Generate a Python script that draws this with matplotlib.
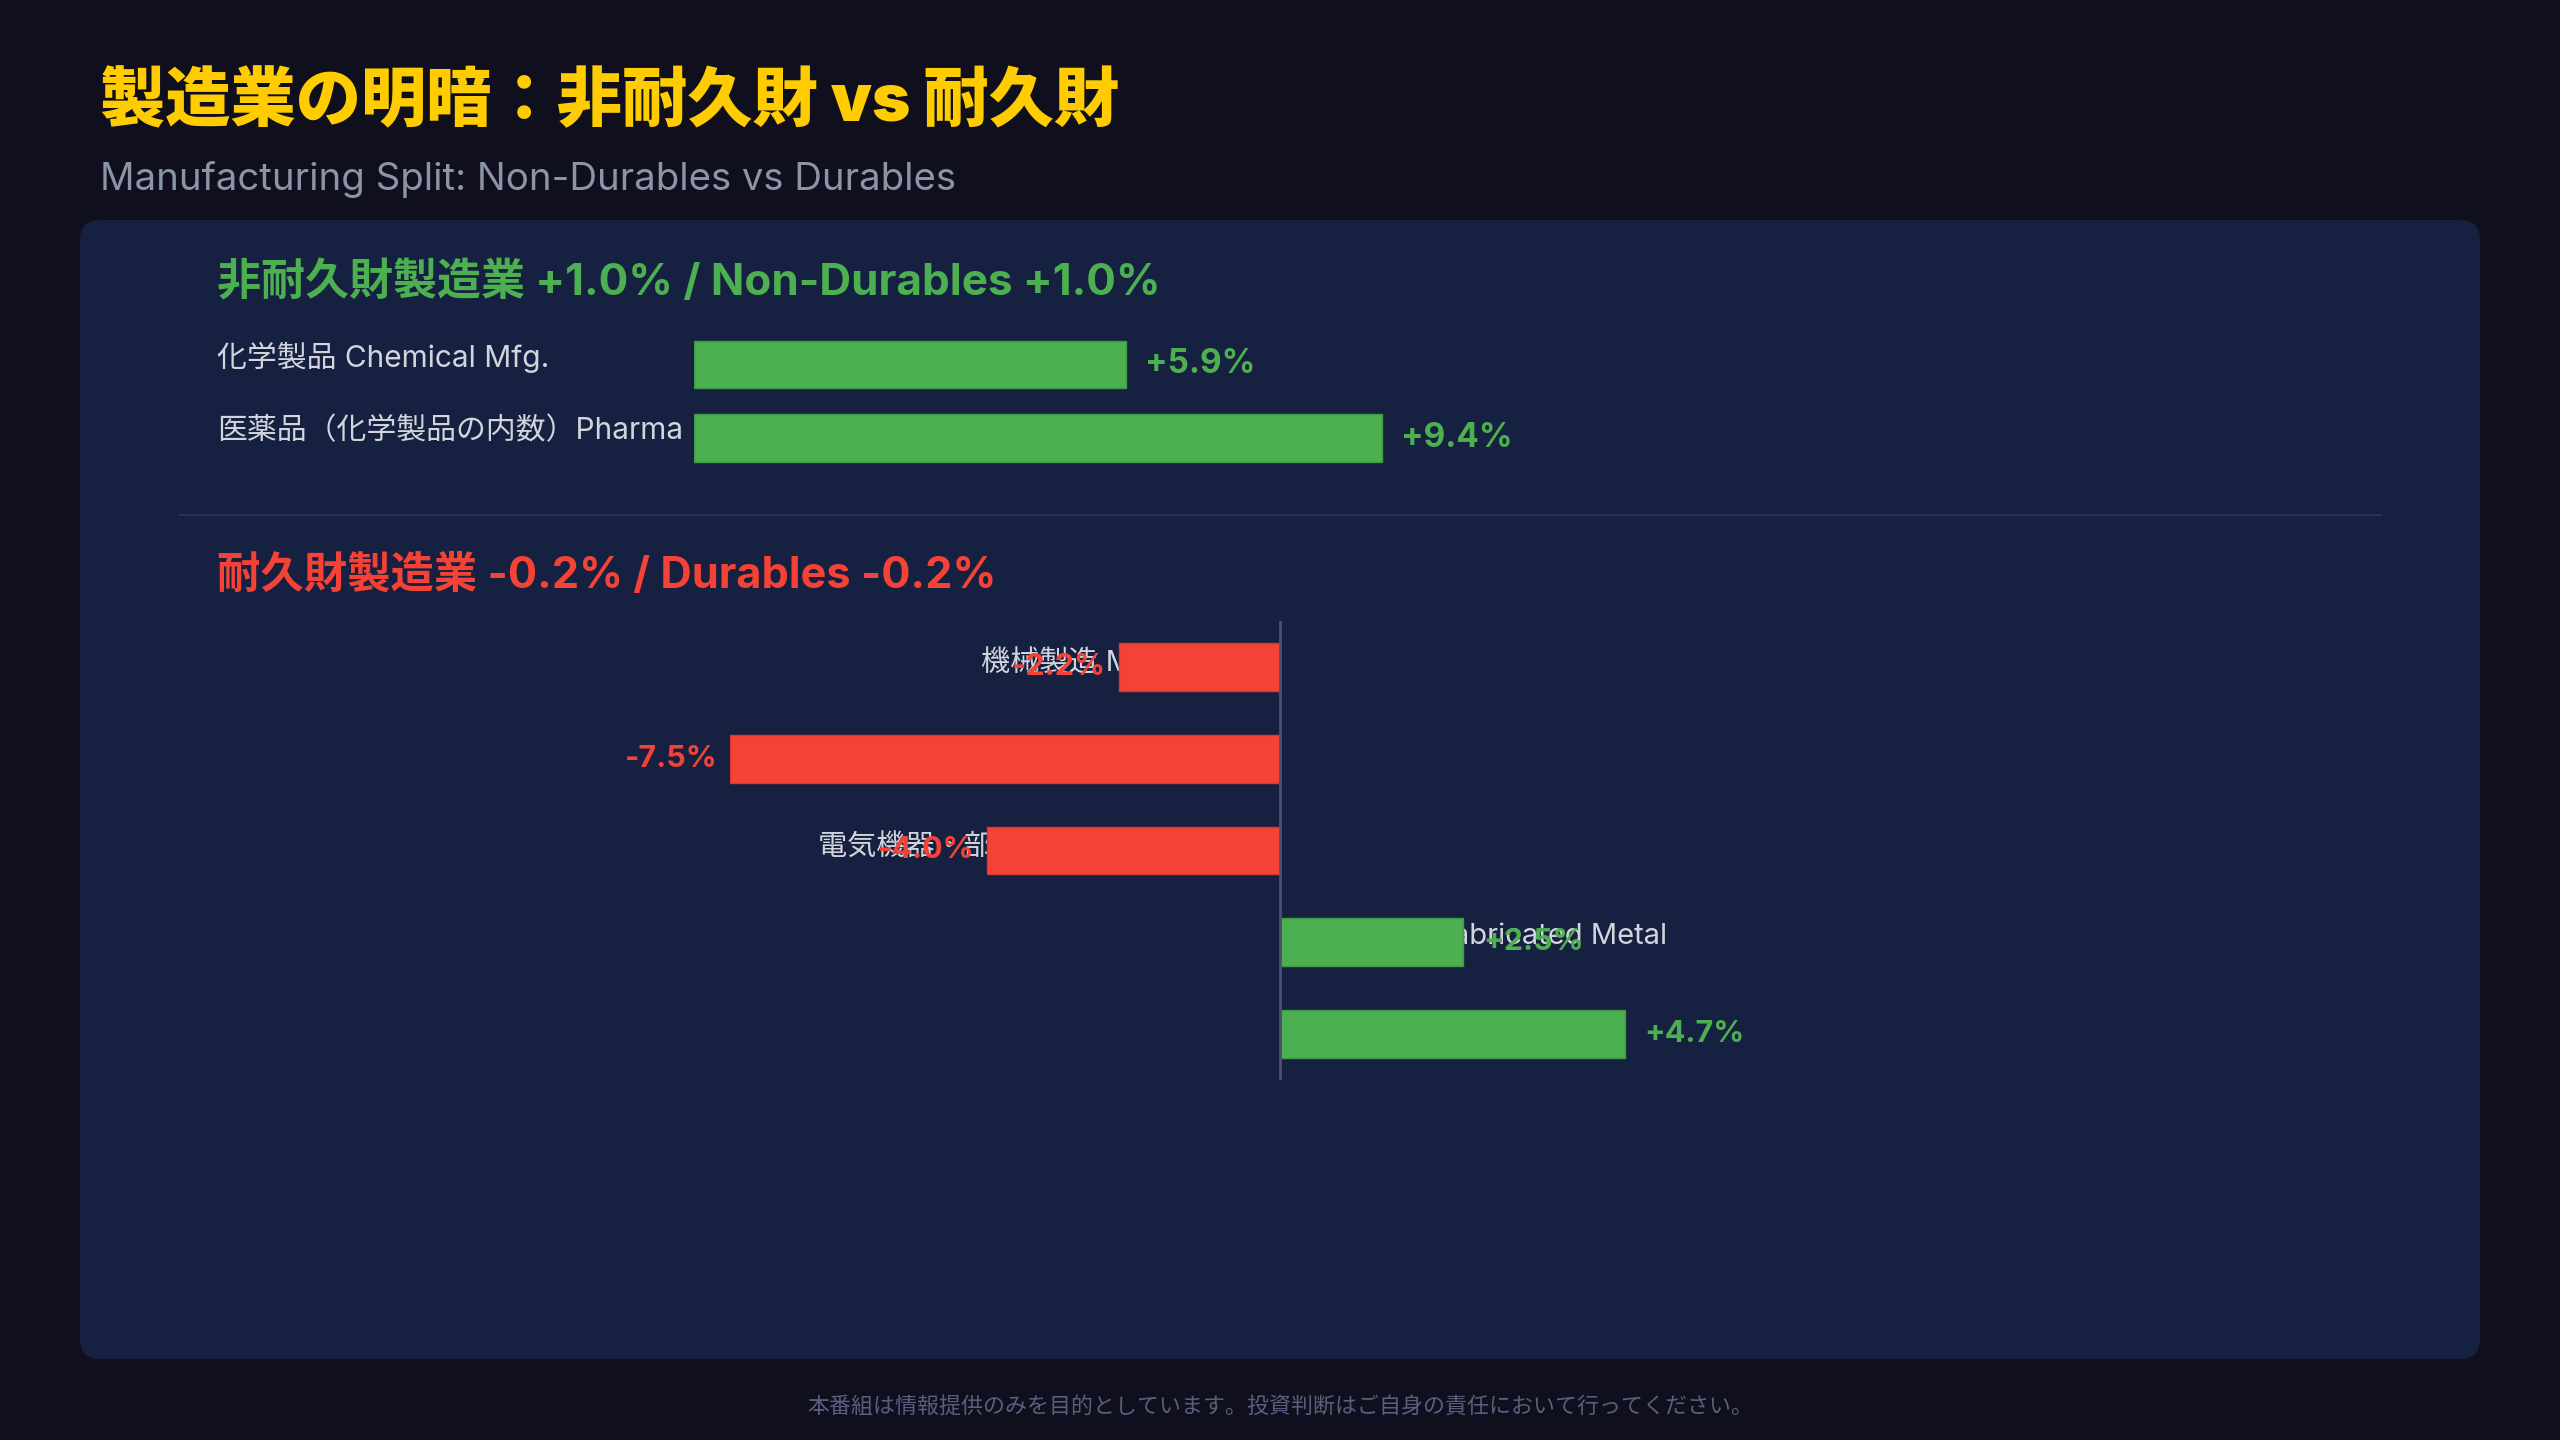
import matplotlib
matplotlib.use("Agg")
import matplotlib.pyplot as plt
from matplotlib.patches import FancyBboxPatch
from matplotlib.transforms import blended_transform_factory

# Latin glyphs from Inter, Japanese glyphs fall back to Noto Sans CJK JP
plt.rcParams['font.family'] = ['Inter', 'Noto Sans CJK JP', 'DejaVu Sans']

# data
title = "製造業の明暗：非耐久財 vs 耐久財"
subtitle = "Manufacturing Split: Non-Durables vs Durables"
footer = "本番組は情報提供のみを目的としています。投資判断はご自身の責任において行ってください。"

nondur_header = "非耐久財製造業 +1.0% / Non-Durables +1.0%"
nondur_labels = ["化学製品 Chemical Mfg.", "医薬品（化学製品の内数）Pharma"]
nondur_values = [5.9, 9.4]

dur_header = "耐久財製造業 -0.2% / Durables -0.2%"
dur_labels = ["機械製造 Machinery", "自動車・部品 Motor Vehicles",
              "電気機器・部品 Electrical Equip.", "金属製品 Fabricated Metal",
              "一次金属 Primary Metal"]
dur_values = [-2.2, -7.5, -4.0, 2.5, 4.7]

# colours
BG = "#0f0f1e"
PANEL = "#162040"
GREEN = "#4caf50"
RED = "#f44336"
GOLD = "#ffcc00"
LABEL = "#d2d5dc"

W, H = 2560, 1440
fig = plt.figure(figsize=(W / 100, H / 100), dpi=100, facecolor=BG)


def box(left, top, right, bottom):
    return [left / W, 1 - bottom / H, (right - left) / W, (bottom - top) / H]


# background layer in pixel units
bg = fig.add_axes([0, 0, 1, 1])
bg.set_xlim(0, W)
bg.set_ylim(H, 0)
bg.axis("off")
bg.add_patch(FancyBboxPatch((80, 220), 2400, 1139,
                            boxstyle="round,pad=0,rounding_size=20",
                            facecolor=PANEL, edgecolor="none"))
bg.plot([180, 2381], [515, 515], color="#2a3152", lw=1.5)

bg.text(100, 103, title, color=GOLD, fontsize=47, fontweight="black", va="center")
bg.text(100, 180, subtitle, color="#8b95a7", fontsize=27.6, va="center")
bg.text(1280, 1407, footer, color="#5b5e7e", fontsize=15.8, ha="center", va="center")
bg.text(217, 283, nondur_header, color=GREEN, fontsize=31.7, fontweight="bold", va="center")
bg.text(217, 576, dur_header, color=RED, fontsize=31.2, fontweight="bold", va="center")

# non-durables
ax1 = fig.add_axes(box(694, 327.8, 694 + 73.2 * 12, 474.4))
ax1.set_xlim(0, 12)
ax1.set_ylim(1.5, -0.5)
ax1.axis("off")
ax1.patch.set_alpha(0)
ys = list(range(len(nondur_values)))
ax1.barh(ys, nondur_values, height=0.65, color=GREEN, edgecolor="#3f9a44", lw=1, zorder=3)
tr = blended_transform_factory(fig.transFigure, ax1.transData)
for y, lab, v in zip(ys, nondur_labels, nondur_values):
    ax1.text(217 / W, y - 0.09, lab, transform=tr, color=LABEL, fontsize=21.5,
             va="center", ha="left", clip_on=False)
    ax1.text(v + 0.26, y, f"+{v:.1f}%", color=GREEN, fontsize=24, fontweight="bold",
             va="center", ha="left", clip_on=False)

# durables
ax2 = fig.add_axes(box(730, 621, 1830, 1080))
ax2.set_xlim(-7.5, 7.5)
ax2.set_ylim(4.5, -0.5)
ax2.axis("off")
ax2.patch.set_alpha(0)
ax2.axvline(0, color="#4b4f74", lw=2, zorder=5)
ys = list(range(len(dur_values)))
cols = [GREEN if v > 0 else RED for v in dur_values]
edges = ["#3f9a44" if v > 0 else "#d63a30" for v in dur_values]
ax2.barh(ys, dur_values, height=0.52, color=cols, edgecolor=edges, lw=1, zorder=3)
for y, lab, v, c in zip(ys, dur_labels, dur_values, cols):
    if v < 0:
        # category label sits under the bar, value label on top
        ax2.text(-0.4, y - 0.055, lab, color=LABEL, fontsize=21, va="center",
                 ha="right", zorder=2, clip_on=False)
        ax2.text(v - 0.17, y, f"{v:.1f}%", color=c, fontsize=22, fontweight="bold",
                 va="center", ha="right", zorder=4, clip_on=False)
    else:
        ax2.text(0.42, y - 0.055, lab, color=LABEL, fontsize=21, va="center",
                 ha="left", zorder=2, clip_on=False)
        ax2.text(v + 0.27, y, f"+{v:.1f}%", color=c, fontsize=22, fontweight="bold",
                 va="center", ha="left", zorder=4, clip_on=False)

fig.savefig("out.png", dpi=100, facecolor=BG)
